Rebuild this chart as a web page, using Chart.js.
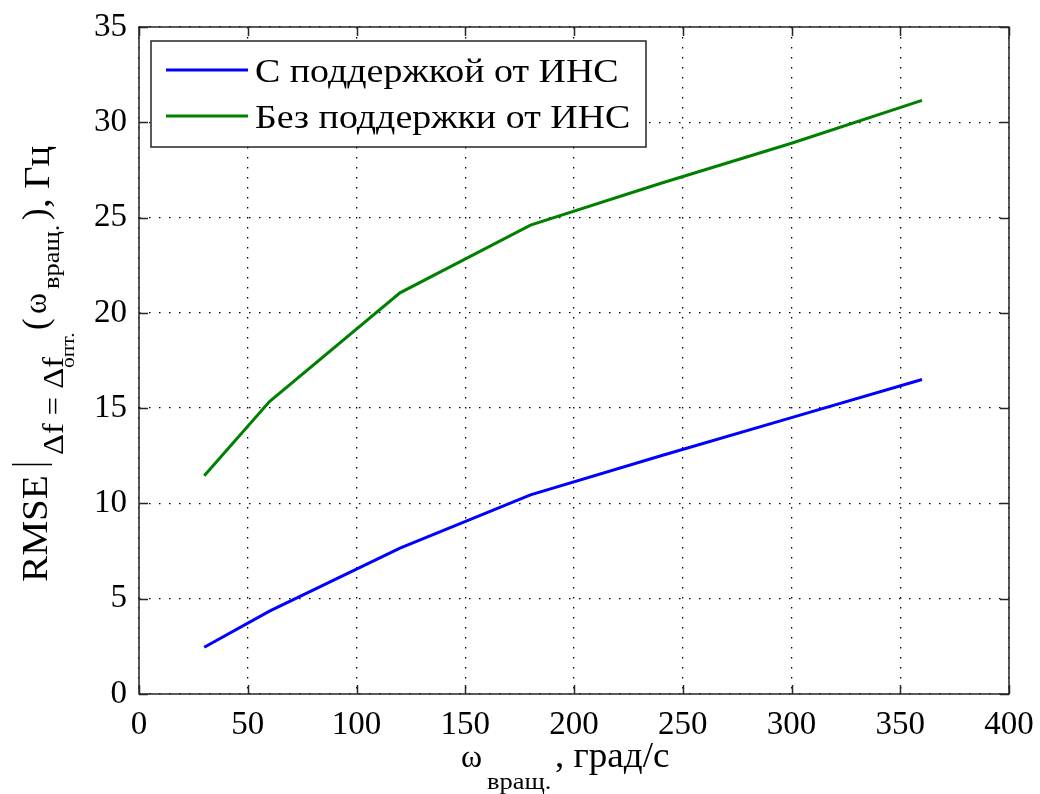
<!DOCTYPE html>
<html>
<head>
<meta charset="utf-8">
<script src="https://cdn.jsdelivr.net/npm/chart.js@4/dist/chart.umd.min.js"></script>
<style>
  html, body { margin: 0; padding: 0; background: #fff; }
  #wrap { width: 1040px; height: 794px; }
</style>
</head>
<body>
<div id="wrap"><canvas id="rmseChart" width="1040" height="794"></canvas></div>
<script>
// rotation rate, deg/s
const rotationSpeed = [30, 60, 120, 180, 240, 300, 360];
// RMSE, Hz
const rmseWithIns = [2.45, 4.35, 7.65, 10.45, 12.5, 14.5, 16.5];
const rmseWithoutIns = [11.45, 15.35, 21.05, 24.6, 26.8, 28.9, 31.15];
const seriesLabels = ["С поддержкой от ИНС", "Без поддержки от ИНС"];
const xTicks = [0, 50, 100, 150, 200, 250, 300, 350, 400];
const yTicks = [0, 5, 10, 15, 20, 25, 30, 35];

const SERIF = '"Liberation Serif", "Times New Roman", serif';
const FRAME = "#262626";

function toPoints(ys) {
  return rotationSpeed.map((x, i) => ({ x: x, y: ys[i] }));
}

// text piece drawn rotated, reading bottom-to-top; (x = baseline, y = start)
function rotText(ctx, text, size, x, y, stretch) {
  ctx.save();
  ctx.translate(x, y);
  ctx.rotate(-Math.PI / 2);
  ctx.scale(stretch || 1, 1);
  ctx.font = size + "px " + SERIF;
  ctx.textAlign = "left";
  ctx.textBaseline = "alphabetic";
  ctx.fillText(text, 0, 0);
  ctx.restore();
}

function flatText(ctx, text, size, x, y, stretch) {
  ctx.save();
  ctx.translate(x, y);
  ctx.scale(stretch || 1, 1);
  ctx.font = size + "px " + SERIF;
  ctx.textAlign = "left";
  ctx.textBaseline = "alphabetic";
  ctx.fillText(text, 0, 0);
  ctx.restore();
}

const matlabFrame = {
  id: "matlabFrame",
  afterDraw(chart) {
    const ctx = chart.ctx;
    const a = chart.chartArea;
    const xs = chart.scales.x, ys = chart.scales.y;
    const tick = 9;

    ctx.save();
    ctx.strokeStyle = FRAME;
    ctx.lineWidth = 1.5;
    ctx.setLineDash([]);
    ctx.strokeRect(a.left, a.top, a.right - a.left, a.bottom - a.top);

    // inward tick marks on all four sides
    ctx.beginPath();
    xTicks.forEach(v => {
      const px = Math.round(xs.getPixelForValue(v)) + 0.5;
      ctx.moveTo(px, a.bottom); ctx.lineTo(px, a.bottom - tick);
      ctx.moveTo(px, a.top); ctx.lineTo(px, a.top + tick);
    });
    yTicks.forEach(v => {
      const py = Math.round(ys.getPixelForValue(v)) + 0.5;
      ctx.moveTo(a.left, py); ctx.lineTo(a.left + tick, py);
      ctx.moveTo(a.right, py); ctx.lineTo(a.right - tick, py);
    });
    ctx.stroke();

    // legend box
    const lx = 151, ly = 41, lw = 495, lh = 106;
    ctx.fillStyle = "#fff";
    ctx.fillRect(lx, ly, lw, lh);
    ctx.strokeRect(lx, ly, lw, lh);
    chart.data.datasets.forEach((ds, i) => {
      const y = 70 + i * 46;
      ctx.strokeStyle = ds.borderColor;
      ctx.lineWidth = 3;
      ctx.beginPath();
      ctx.moveTo(166, y); ctx.lineTo(248, y);
      ctx.stroke();
      ctx.fillStyle = "#000";
      flatText(ctx, ds.label, 33, 255, y + 12, 1.15);
    });

    // y axis title: RMSE|_{Δf = Δf_опт.}(ω_вращ.), Гц
    ctx.fillStyle = "#000";
    rotText(ctx, "RMSE", 35, 47, 582, 1.12);
    ctx.strokeStyle = "#000";
    ctx.lineWidth = 1.5;
    ctx.beginPath();
    ctx.moveTo(12, 464.5); ctx.lineTo(52, 464.5);
    ctx.stroke();
    rotText(ctx, "Δf = Δf", 29, 63, 455, 1.12);
    rotText(ctx, "опт.", 18, 74, 368, 1.2);
    rotText(ctx, "(", 35, 47, 330);
    rotText(ctx, "ω", 32, 46, 314);
    rotText(ctx, "вращ.", 23, 59, 289, 1.15);
    rotText(ctx, ")", 35, 47, 220);
    rotText(ctx, ", Гц", 35, 49, 208, 1.1);

    // x axis title: ω_вращ., град/с
    flatText(ctx, "ω", 32, 461, 767);
    flatText(ctx, "вращ.", 23, 487, 789, 1.15);
    flatText(ctx, ", град/с", 35, 555, 767, 1.06);
    ctx.restore();
  }
};

new Chart(document.getElementById("rmseChart"), {
  type: "line",
  data: {
    datasets: [
      {
        label: seriesLabels[0],
        data: toPoints(rmseWithIns),
        borderColor: "#0000ff",
        borderWidth: 3,
        pointRadius: 0,
        tension: 0,
        fill: false
      },
      {
        label: seriesLabels[1],
        data: toPoints(rmseWithoutIns),
        borderColor: "#008000",
        borderWidth: 3,
        pointRadius: 0,
        tension: 0,
        fill: false
      }
    ]
  },
  options: {
    responsive: false,
    animation: false,
    layout: { padding: { top: 27, right: 31, left: 0, bottom: 0 } },
    plugins: {
      legend: { display: false },
      tooltip: { enabled: false }
    },
    scales: {
      x: {
        type: "linear",
        min: 0,
        max: 400,
        afterBuildTicks: s => { s.ticks = xTicks.map(v => ({ value: v })); },
        afterFit: s => { s.height = 100; s.paddingLeft = 0; s.paddingRight = 0; },
        ticks: {
          color: "#000",
          font: { family: SERIF, size: 33 },
          padding: 12,
          maxRotation: 0
        },
        grid: { color: "#000", lineWidth: 1.3, drawTicks: false },
        border: { display: false, dash: [1.5, 8.5] }
      },
      y: {
        min: 0,
        max: 35,
        afterBuildTicks: s => { s.ticks = yTicks.map(v => ({ value: v })); },
        afterFit: s => { s.width = 139; s.paddingTop = 0; s.paddingBottom = 0; },
        ticks: {
          color: "#000",
          font: { family: SERIF, size: 33 },
          padding: 12
        },
        grid: { color: "#000", lineWidth: 1.3, drawTicks: false },
        border: { display: false, dash: [1.5, 8.5] }
      }
    }
  },
  plugins: [matlabFrame]
});
</script>
</body>
</html>
